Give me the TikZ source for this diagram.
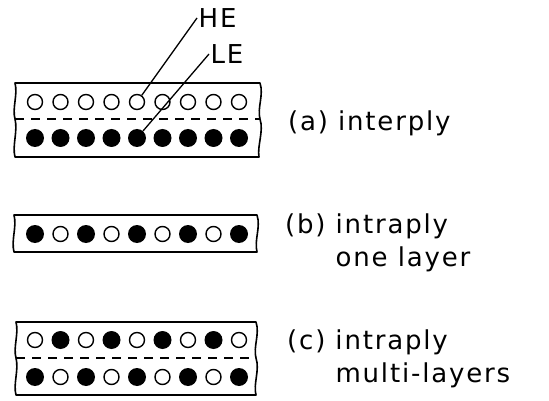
\documentclass[tikz,border=0pt]{standalone}
\usepackage{fontspec}
\setmainfont[LetterSpace=7]{DejaVu Sans}
\tikzset{
  ply/.style   = {draw=black, line width=1.6pt, line join=round},
  split/.style = {draw=black, line width=1.4pt, dash pattern=on 9pt off 7pt},
  fibo/.style  = {circle, draw=black, fill=white, line width=1.4pt, minimum size=15pt, inner sep=0pt},
  fibf/.style  = {circle, fill=black, minimum size=18pt, inner sep=0pt},
  lbl/.style   = {font=\fontsize{26}{33.5}\selectfont, anchor=base west, inner sep=0pt},
  tag/.style   = {font=\fontsize{26}{30}\selectfont, anchor=west, inner sep=1.5pt},
  lead/.style  = {draw=black, line width=1.3pt},
}
\begin{document}
\begin{tikzpicture}[x=1pt,y=-1pt]
  \useasboundingbox (0,0) rectangle (549,401);

  % (a) interply
  \draw[ply] (15,83) -- (260,83) .. controls (264,95) and (257,108) .. (260,119)
    .. controls (264,131) and (257,146) .. (259,157) -- (15,157)
    .. controls (12,146) and (18,131) .. (15,119) .. controls (12,108) and (18,95) .. cycle;
  \draw[split] (15,119) -- (260,119);
  \foreach \i in {0,...,8} {
    \node[fibo] (au\i) at (35+25.5*\i,102) {};
    \node[fibf] (al\i) at (35+25.5*\i,138) {};
  }
  \node[tag] (he) at (197,18) {HE};
  \node[tag] (le) at (209,54) {LE};
  \draw[lead] (au4) -- (he.west);
  \draw[lead] (al4) -- (le.west);
  \node[lbl] (la) at (288,131) {(a) interply};

  % (b) intraply, one layer
  \draw[ply] (14,215) -- (257,215) .. controls (261,227) and (254,240) .. (257,252)
    -- (14,252) .. controls (11,240) and (17,227) .. cycle;
  \foreach \i in {0,2,...,8}
    \node[fibf] (bf\i) at (35+25.5*\i,234) {};
  \foreach \i in {1,3,...,7}
    \node[fibo] (bo\i) at (35+25.5*\i,234) {};
  \node[lbl] (lb) at (285,233) {\begin{tabular}[t]{@{}l@{}}(b) intraply\\\hphantom{(b) }one layer\end{tabular}};

  % (c) intraply, multi-layers
  \draw[ply] (16,322) -- (256,322) .. controls (260,334) and (253,347) .. (256,358)
    .. controls (260,370) and (253,384) .. (256,395) -- (16,395)
    .. controls (13,384) and (19,370) .. (16,358) .. controls (13,347) and (19,334) .. cycle;
  \draw[split] (16,358) -- (256,358);
  \foreach \i in {0,2,...,8} {
    \node[fibo] (cu\i) at (35+25.5*\i,340) {};
    \node[fibf] (cl\i) at (35+25.5*\i,377) {};
  }
  \foreach \i in {1,3,...,7} {
    \node[fibf] (cu\i) at (35+25.5*\i,340) {};
    \node[fibo] (cl\i) at (35+25.5*\i,377) {};
  }
  \node[lbl] (lc) at (287,349) {\begin{tabular}[t]{@{}l@{}}(c) intraply\\\hphantom{(c) }multi-layers\end{tabular}};
\end{tikzpicture}
\end{document}
